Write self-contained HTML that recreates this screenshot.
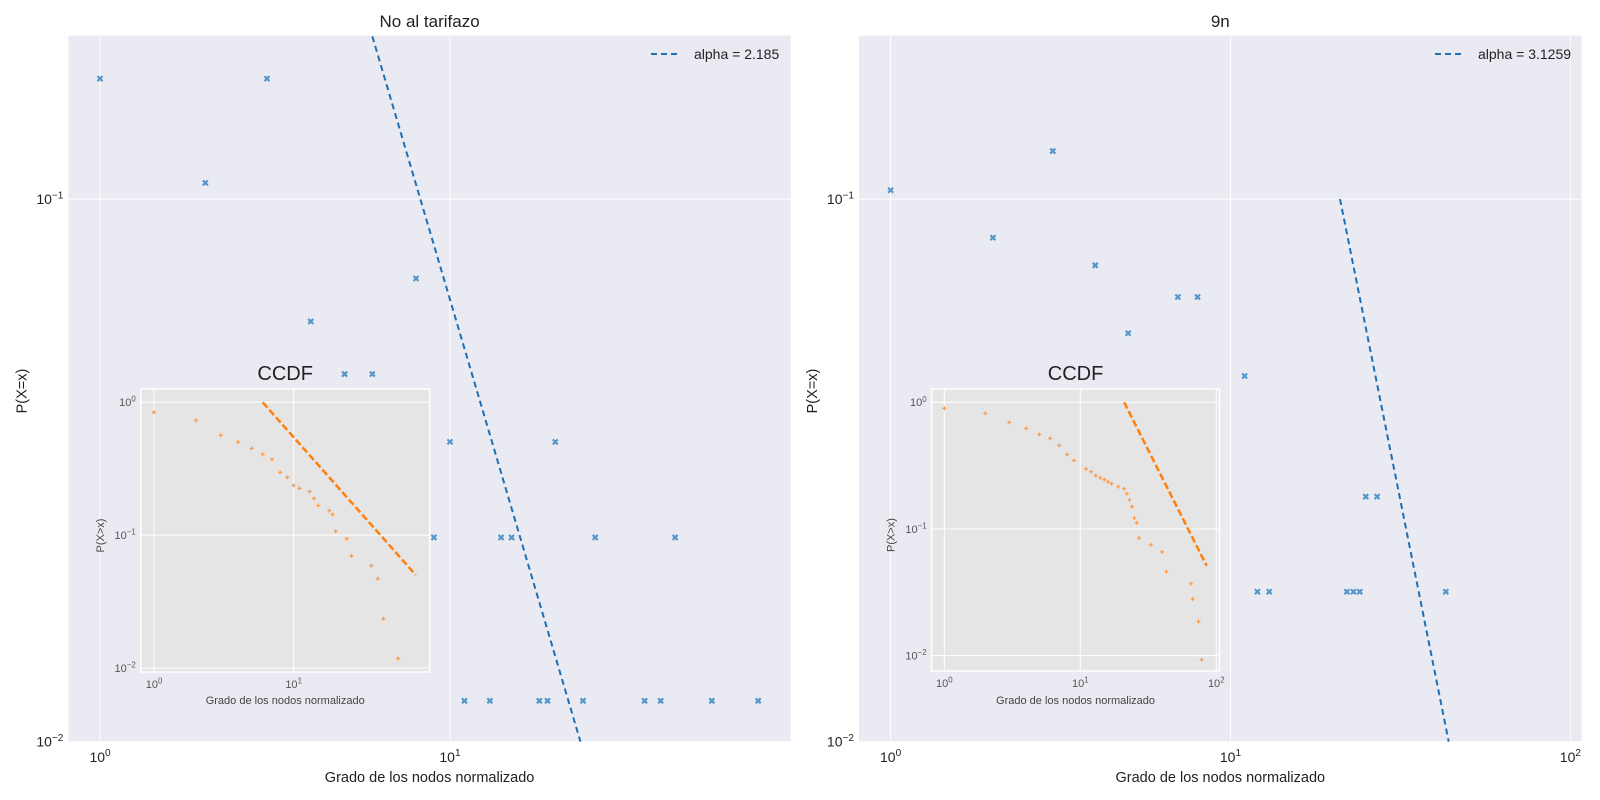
<!DOCTYPE html>
<html><head><meta charset="utf-8"><style>
html,body{margin:0;padding:0;background:#fff;width:1600px;height:800px;overflow:hidden}
svg{display:block;font-family:"Liberation Sans",sans-serif}
</style></head><body>
<svg id="c" width="1600" height="800" viewBox="0 0 1600 800" xmlns="http://www.w3.org/2000/svg"></svg>
<script>
// Left main: degree distribution "No al tarifazo"
const leftDeg=[1,2,3,4,5,6,8,9,10,11,13,14,15,18,19,20,24,26,36,40,44,56,76];
const leftP=[0.1667,0.1071,0.1667,0.0595,0.0476,0.0476,0.0714,0.0238,0.0357,0.0119,0.0119,0.0238,0.0238,0.0119,0.0119,0.0357,0.0119,0.0238,0.0119,0.0119,0.0238,0.0119,0.0119];
const leftAlpha=2.185, leftC=10, leftXmin=6;
// Left inset CCDF
const leftCcdfX=[1,2,3,4,5,6,7,8,9,10,11,13,14,15,18,19,20,24,26,36,40,44,56];
const leftCcdfY=[0.841,0.732,0.564,0.502,0.45,0.406,0.372,0.297,0.272,0.237,0.225,0.213,0.189,0.167,0.153,0.143,0.107,0.094,0.070,0.059,0.047,0.0235,0.0118];
const leftCcdfFitMax=75;
// Right main: "9n"
const rightDeg=[1,2,3,4,5,7,8,11,12,13,22,23,24,25,27,43];
const rightP=[0.1038,0.0849,0.1226,0.0755,0.0566,0.066,0.066,0.0472,0.0189,0.0189,0.0189,0.0189,0.0189,0.0283,0.0283,0.0189];
const rightAlpha=3.1259, rightXmin=21;
// Right inset CCDF
const rightCcdfX=[1,2,3,4,5,6,7,8,9,11,12,13,14,15,16,17,19,21,22,23,24,25,26,27,33,40,43,65,67,74,78];
const rightCcdfY=[0.896,0.818,0.694,0.622,0.557,0.518,0.456,0.387,0.347,0.299,0.283,0.264,0.254,0.245,0.236,0.228,0.216,0.208,0.19,0.17,0.15,0.122,0.112,0.085,0.075,0.066,0.046,0.037,0.028,0.0186,0.0093];
const rightCcdfFitMax=85;

const svg=document.getElementById('c');
const NS='http://www.w3.org/2000/svg';
function el(tag,attrs,parent){const e=document.createElementNS(NS,tag);for(const k in attrs)e.setAttribute(k,attrs[k]);(parent||svg).appendChild(e);return e;}
function txt(x,y,s,size,fill,anchor,parent){const t=el('text',{x:x,y:y,'font-size':size,fill:fill,'text-anchor':anchor||'middle'},parent);t.textContent=s;return t;}
function axis(o){
  const sx=v=>o.x0+(Math.log10(v)-o.lx0)/(o.lx1-o.lx0)*(o.x1-o.x0);
  const sy=v=>o.y1-(Math.log10(v)-o.ly0)/(o.ly1-o.ly0)*(o.y1-o.y0);
  return {sx,sy};
}
function sup(parent,x,y,base,exp,size,fill,anchor){
  const t=el('text',{x:x,y:y,'font-size':size,fill:fill,'text-anchor':anchor},parent);
  const a=document.createElementNS(NS,'tspan');a.textContent=base;t.appendChild(a);
  const b=document.createElementNS(NS,'tspan');b.setAttribute('dy',-size*0.4);b.setAttribute('font-size',size*0.72);b.textContent=exp;t.appendChild(b);
  return t;
}
let clipId=0;
function panel(cfg){
  const g=el('g',{});
  
  
  const o=cfg.o;const {sx,sy}=axis(o);
  const bg=el('rect',{x:o.x0,y:o.y0,width:o.x1-o.x0,height:o.y1-o.y0,fill:cfg.bg},g);
  
  
  if(cfg.frame){el('rect',{x:o.x0,y:o.y0,width:o.x1-o.x0,height:o.y1-o.y0,fill:'none',stroke:'#fff','stroke-width':1.5},g);}
  for(const e of cfg.xt){const x=sx(Math.pow(10,e));el('line',{x1:x,x2:x,y1:o.y0,y2:o.y1,stroke:'#fff','stroke-width':1},g);
    const t=sup(g,x,o.y1+cfg.tickDy,'10',String(e),cfg.tick,cfg.tickFill,'middle');}
  for(const e of cfg.yt){const y=sy(Math.pow(10,e));el('line',{x1:o.x0,x2:o.x1,y1:y,y2:y,stroke:'#fff','stroke-width':1},g);
    const t=sup(g,o.x0-5,y+cfg.tick*0.35,'10',String(e).replace('-','\u2212'),cfg.tick,cfg.tickFill,'end');}
  const cid='clip'+(clipId++);
  const cp=el('clipPath',{id:cid},g);el('rect',{x:o.x0,y:o.y0,width:o.x1-o.x0,height:o.y1-o.y0},cp);
  const pg=el('g',{'clip-path':'url(#'+cid+')'},g);
  // fit line y = A x^-a, restricted to visible box
  const A=cfg.A,a=cfg.a;
  const xTop=Math.pow(A/Math.pow(10,o.ly1),1/a), xBot=Math.pow(A/Math.pow(10,o.ly0),1/a);
  let f0=Math.max(cfg.fitMin,xTop,Math.pow(10,o.lx0)), f1=Math.min(cfg.fitMax,xBot,Math.pow(10,o.lx1));
  const fx=[],N=40;for(let i=0;i<=N;i++){fx.push(f0*Math.pow(f1/f0,i/N));}
  const pts=fx.map(x=>sx(x).toFixed(2)+','+sy(A*Math.pow(x,-a)).toFixed(2)).join(' ');
  const fl=el('polyline',{points:pts,fill:'none',stroke:cfg.lineColor,'stroke-width':cfg.lw,'stroke-dasharray':cfg.dash},pg);
  
  
  for(let i=0;i<cfg.xs.length;i++){
    const x=sx(cfg.xs[i]),y=sy(cfg.ys[i]);
    if(cfg.marker==='x'){const m=el('path',{d:`M${x-2.5},${y-2.5}L${x+2.5},${y+2.5}M${x-2.5},${y+2.5}L${x+2.5},${y-2.5}`,stroke:'#3a88c0','stroke-width':2.2,opacity:0.85},pg);
      }
    else{const m=el('path',{d:`M${x-2},${y}L${x+2},${y}M${x},${y-2}L${x},${y+2}`,stroke:'#ff9a45','stroke-width':1.2},pg);
      }
  }
  return {g,sx,sy};
}
function mainPanel(x0,x1,lx0,lx1,xt,deg,p,A,a,fitMin,title,alphaTxt,name,legX){
  const o={x0:x0,x1:x1,y0:35.7,y1:741.8,lx0:lx0,lx1:lx1,ly0:-2,ly1:-0.699};
  panel({name:name,o:o,bg:'#eaeaf2',xt:xt,yt:[-1,-2],tick:14,tickFill:'#222',tickDy:20,xs:deg,ys:p,A:A,a:a,fitMin:fitMin,fitMax:200,lineColor:'#1f6fb4',lw:2,dash:'6,4',marker:'x'});
  const cx=(x0+x1)/2;
  const t=txt(cx,27,title,17,'#222');
  const xl=txt(cx,782,'Grado de los nodos normalizado',14.5,'#222');
  const yl=txt(0,0,'P(X=x)',14.5,'#222');yl.setAttribute('transform',`translate(${x0-42},391) rotate(-90)`);
  const lg=el('g',{});
  el('line',{x1:legX,x2:legX+29,y1:54,y2:54,stroke:'#1f6fb4','stroke-width':2,'stroke-dasharray':'6,4'},lg);
  const lt=txt(legX+43,59,alphaTxt,14,'#222','start',lg);
}
function insetPanel(o,xt,xs,ys,A,a,fitMin,fitMax,name){
  panel({name:name,o:o,bg:'#e5e5e5',frame:true,xt:xt,yt:[0,-1,-2],tick:11,tickFill:'#555',tickDy:16,xs:xs,ys:ys,A:A,a:a,fitMin:fitMin,fitMax:fitMax,lineColor:'#ff7f0e',lw:2.5,dash:'7,3',marker:'+'});
  const cx=(o.x0+o.x1)/2;
  const t=txt(cx,380,'CCDF',20,'#222');
  const xl=txt(cx,704,'Grado de los nodos normalizado',11,'#444');
  const yl=txt(0,0,'P(X>x)',11,'#444');yl.setAttribute('transform',`translate(${o.x0-37},${(o.y0+o.y1)/2+5}) rotate(-90)`);
}
mainPanel(68.4,790.8,-0.0904,1.974,[0,1],leftDeg,leftP,leftC,leftAlpha,leftXmin,'No al tarifazo','alpha = 2.185','left-panel',651);
insetPanel({x0:140.8,x1:429.6,y0:389,y1:672,lx0:-0.095,lx1:1.974,ly0:-2.03,ly1:0.1},[0,1],leftCcdfX,leftCcdfY,Math.pow(leftXmin,leftAlpha-1),leftAlpha-1,leftXmin,leftCcdfFitMax,'left-inset');
const rC=0.1*Math.pow(rightXmin,rightAlpha);
mainPanel(859,1581.6,-0.093,2.033,[0,1,2],rightDeg,rightP,rC,rightAlpha,rightXmin,'9n','alpha = 3.1259','right-panel',1435);
insetPanel({x0:931.7,x1:1219.4,y0:389,y1:671,lx0:-0.093,lx1:2.023,ly0:-2.121,ly1:0.105},[0,1,2],rightCcdfX,rightCcdfY,Math.pow(rightXmin,rightAlpha-1),rightAlpha-1,rightXmin,rightCcdfFitMax,'right-inset');
</script>
</body></html>
